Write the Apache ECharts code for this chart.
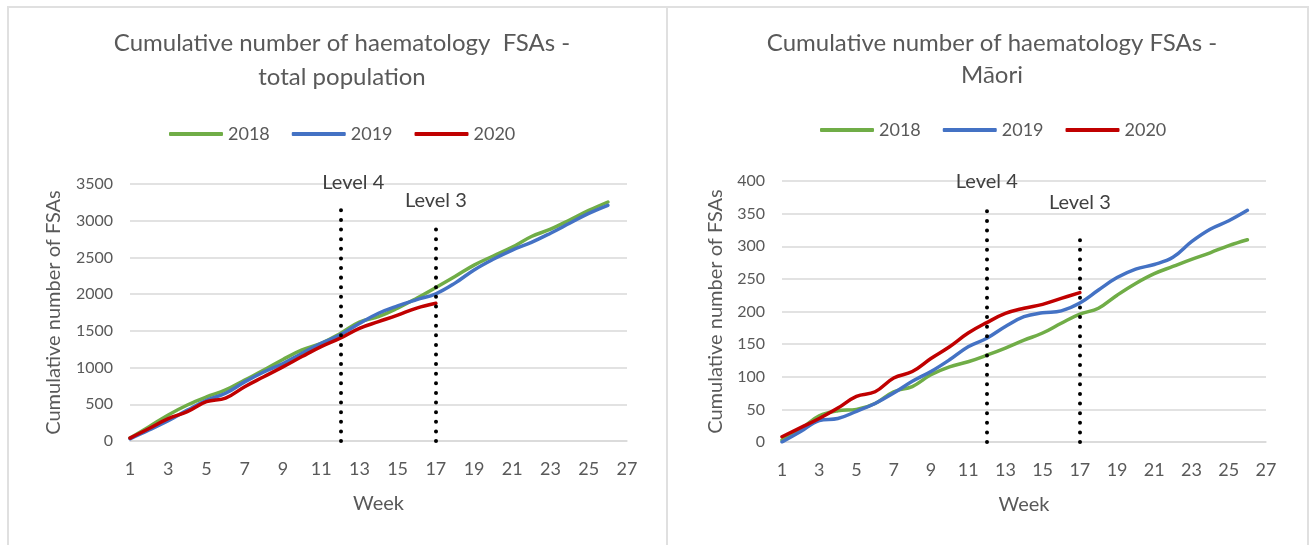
<!DOCTYPE html>
<html>
<head>
<meta charset="utf-8">
<script src="https://cdn.jsdelivr.net/npm/echarts@6/dist/echarts.min.js"></script>
<style>
  html, body { margin: 0; padding: 0; background: #fff; overflow: hidden; }
  .frame { position: absolute; top: 6px; height: 600px; border-top: 2px solid #e0e0e0; border-left: 2px solid #e0e0e0; }
  #chart { position: absolute; left: 0; top: 0; width: 1309px; height: 545px; }
</style>
</head>
<body>
<div class="frame" style="left:7px;width:658px"></div>
<div class="frame" style="left:666px;width:639px;border-right:2px solid #e0e0e0"></div>
<div id="chart"></div>
<script>
// weeks on the x axis
var weeks = [1, 2, 3, 4, 5, 6, 7, 8, 9, 10, 11, 12, 13, 14, 15, 16, 17, 18, 19, 20, 21, 22, 23, 24, 25, 26];
var years = ['2018', '2019', '2020'];

// total population
var total2018 = [40, 195, 355, 490, 600, 695, 830, 965, 1110, 1240, 1330, 1465, 1620, 1695, 1810, 1945, 2090, 2240, 2395, 2520, 2640, 2785, 2885, 3010, 3140, 3255];
var total2019 = [30, 150, 275, 420, 555, 650, 805, 940, 1055, 1195, 1330, 1445, 1600, 1740, 1840, 1925, 2005, 2150, 2330, 2475, 2600, 2705, 2830, 2965, 3100, 3210];
var total2020 = [40, 170, 305, 400, 535, 585, 740, 875, 1010, 1150, 1285, 1400, 1535, 1625, 1715, 1810, 1875];

// Maori
var maori2018 = [3, 20, 40, 48, 50, 59, 77, 85, 103, 115, 123, 133, 144, 156, 167, 182, 196, 205, 225, 243, 258, 269, 280, 290, 301, 310];
var maori2019 = [0, 16, 33, 36, 47, 59, 75, 93, 108, 126, 146, 159, 177, 192, 198, 201, 213, 233, 252, 265, 272, 283, 307, 326, 339, 355];
var maori2020 = [8, 22, 36, 52, 70, 77, 98, 108, 128, 146, 167, 183, 197, 205, 211, 220, 229];

// alert level markers: [week, top of dotted line]
var levelWeeks = [12, 17];
var levelNames = ['Level 4', 'Level 3'];
var totalLevelTop = [3150, 2900];
var maoriLevelTop = [355, 310];

var colors = ['#70ad47', '#4472c4', '#c00000'];
var textColor = '#595959';
var font = 'Lato, "Open Sans", sans-serif';

var chart = echarts.init(document.getElementById('chart'));

function pairs(vals) {
    return vals.map(function (v, i) { return [weeks[i], v]; });
}

function levelLines(tops, dists) {
    return {
        silent: true,
        symbol: ['none', 'none'],
        lineStyle: {
            color: '#000000',
            width: 4,
            type: [0.01, 9.6],
            cap: 'round'
        },
        label: {
            show: true,
            position: 'end',
            color: '#404040',
            fontSize: 20,
            fontFamily: font
        },
        data: levelWeeks.map(function (w, i) {
            return [
                { coord: [w, 0] },
                {
                    coord: [w, tops[i]],
                    label: {
                        formatter: levelNames[i],
                        distance: dists[i][0],
                        padding: dists[i][1]
                    }
                }
            ];
        })
    };
}

function lineSeries(name, vals, idx, colorIdx, mark) {
    var s = {
        name: name,
        type: 'line',
        xAxisIndex: idx,
        yAxisIndex: idx,
        data: pairs(vals),
        smooth: 0.4,
        symbol: 'none',
        showSymbol: false,
        color: colors[colorIdx],
        lineStyle: { width: 3.5, color: colors[colorIdx], cap: 'round' },
        z: 3
    };
    if (mark) s.markLine = mark;
    return s;
}

function xAxisCfg(gridIndex) {
    return {
        type: 'value',
        gridIndex: gridIndex,
        min: 1,
        max: 27,
        interval: 2,
        name: 'Week',
        nameLocation: 'middle',
        nameGap: 53,
        nameTextStyle: { color: textColor, fontSize: 20, fontFamily: font },
        axisLine: { show: true, lineStyle: { color: '#d9d9d9', width: 1.5 } },
        axisTick: { show: false },
        splitLine: { show: false },
        axisLabel: { color: textColor, fontSize: 18, fontFamily: font, margin: 19 }
    };
}

function yAxisCfg(gridIndex, max, interval, gap) {
    return {
        type: 'value',
        gridIndex: gridIndex,
        min: 0,
        max: max,
        interval: interval,
        name: 'Cumulative number of FSAs',
        nameLocation: 'middle',
        nameGap: gap,
        nameTextStyle: { color: textColor, fontSize: 20, fontFamily: font },
        axisLine: { show: false },
        axisTick: { show: false },
        splitLine: { lineStyle: { color: '#d9d9d9', width: 1.5 } },
        axisLabel: {
            color: textColor,
            fontSize: 16,
            fontFamily: font,
            margin: 17,
            formatter: function (v) { return String(v); }
        }
    };
}

function legendCfg(left, top) {
    return {
        left: left,
        top: top,
        data: years,
        icon: 'roundRect',
        itemWidth: 54,
        itemHeight: 4,
        itemGap: 22,
        textStyle: { color: textColor, fontSize: 18, fontFamily: font }
    };
}

var option = {
    animation: false,
    backgroundColor: 'transparent',
    title: [
        {
            text: 'Cumulative number of haematology  FSAs -\ntotal population',
            left: 337,
            top: 21,
            textAlign: 'center',
            textStyle: { color: textColor, fontSize: 24, fontWeight: 'normal', fontFamily: font, lineHeight: 34 }
        },
        {
            text: 'Cumulative number of haematology FSAs -\nMāori',
            left: 987,
            top: 22,
            textAlign: 'center',
            textStyle: { color: textColor, fontSize: 24, fontWeight: 'normal', fontFamily: font, lineHeight: 32 }
        }
    ],
    legend: [legendCfg(164, 120), legendCfg(815, 116)],
    grid: [
        { left: 130, right: 682, top: 184, bottom: 104 },
        { left: 782, right: 43, top: 181, bottom: 103 }
    ],
    xAxis: [xAxisCfg(0), xAxisCfg(1)],
    yAxis: [yAxisCfg(0, 3500, 500, 66), yAxisCfg(1, 400, 50, 56)],
    series: [
        lineSeries(years[0], total2018, 0, 0, levelLines(totalLevelTop, [[17, [0, 0, 0, 26]], [18, 0]])),
        lineSeries(years[1], total2019, 0, 1),
        lineSeries(years[2], total2020, 0, 2),
        lineSeries(years[0], maori2018, 1, 0, levelLines(maoriLevelTop, [[19, 0], [27, 0]])),
        lineSeries(years[1], maori2019, 1, 1),
        lineSeries(years[2], maori2020, 1, 2)
    ]
};

chart.setOption(option);
</script>
</body>
</html>
